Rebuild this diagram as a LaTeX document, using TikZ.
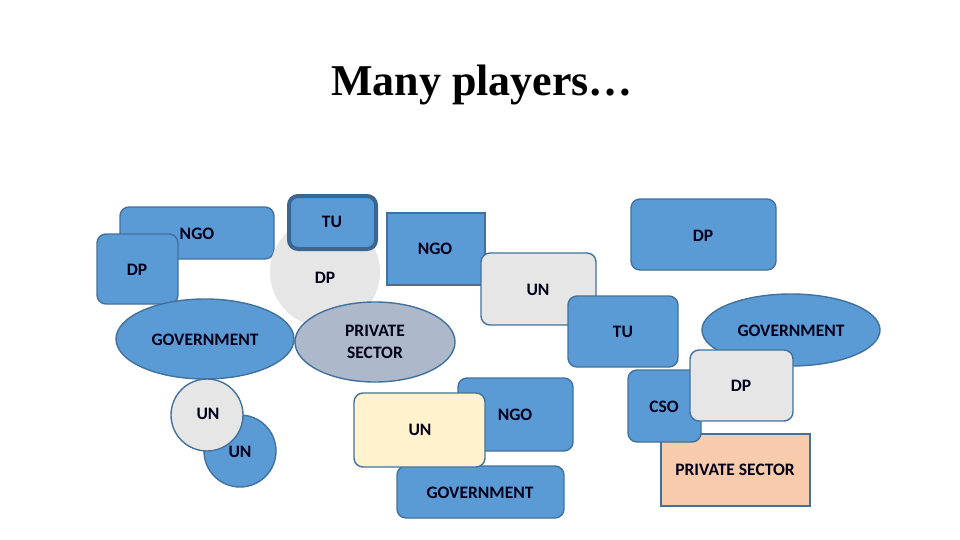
\documentclass[tikz,border=0pt]{standalone}
\usepackage{fontspec}
\setmainfont{Carlito}
\newfontfamily\titlefont{Liberation Serif}
\begin{document}
\begin{tikzpicture}[x=1pt,y=-1pt,
  every node/.style={font=\bfseries\fontsize{17.5}{20}\selectfont, text=black!90!blue},
  blue/.style={draw=bord, fill=bfill, line width=1.4pt},
  rbox/.style={blue, rounded corners=9pt},
  greybox/.style={draw=bord, fill=gfill, line width=1.4pt, rounded corners=9pt},
  txt/.style={inner sep=0pt, align=center}]
\definecolor{bfill}{HTML}{5B9BD5}
\definecolor{bord}{HTML}{41719C}
\definecolor{gfill}{HTML}{E7E6E6}
\definecolor{psfill}{HTML}{ADB9CA}
\definecolor{yfill}{HTML}{FFF2CC}
\definecolor{pfill}{HTML}{F8CBAD}
\definecolor{dkbord}{HTML}{3A6690}
\useasboundingbox (0,0) rectangle (960,540);
\node[txt, font=\titlefont\bfseries\fontsize{44}{50}\selectfont, text=black] (title) at (482,85) {Many players…};
% top-left cluster
\draw[rbox] (120,207) rectangle (274,259);
\node[txt] (ngo1) at (197,234) {NGO};
\draw[rbox] (97,234) rectangle (178,304);
\node[txt] (dp1) at (137,270) {DP};
\fill[gfill] (325,272) circle (55);
\node[txt] (dp2) at (325,278) {DP};
\draw[rbox, draw=dkbord, line width=4pt] (289,196) rectangle (376,249);
\node[txt] (tu1) at (332,222) {TU};
% middle top
\draw[blue] (387,213) rectangle (485,285);
\node[txt] (ngo2) at (435,249) {NGO};
\draw[greybox] (481,253) rectangle (596,325);
\node[txt] (un1) at (538,290) {UN};
\draw[rbox] (568,296) rectangle (678,367);
\node[txt] (tu2) at (623,332) {TU};
\draw[rbox] (631,199) rectangle (776,270);
\node[txt] (dp3) at (703,236) {DP};
% left ellipses
\draw[blue] (205,339) ellipse [x radius=89, y radius=40];
\node[txt] (gov1) at (205,340) {GOVERNMENT};
\draw[draw=bord, fill=psfill, line width=1.4pt] (375,342) ellipse [x radius=80, y radius=40];
\node[txt] (ps1) at (375,342) {PRIVATE\\[2pt]SECTOR};
% right cluster
\draw[blue] (791,330) ellipse [x radius=89, y radius=36];
\node[txt] (gov2) at (791,331) {GOVERNMENT};
\draw[draw=bord, fill=pfill, line width=1.2pt] (661,434) rectangle (810,506);
\node[txt] (ps2) at (735,470) {PRIVATE SECTOR};
\draw[rbox] (628,370) rectangle (701,442);
\node[txt] (cso) at (664,407) {CSO};
\draw[greybox] (690,350) rectangle (793,421);
\node[txt] (dp4) at (741,386) {DP};
% bottom middle
\draw[rbox] (397,466) rectangle (564,518);
\node[txt] (gov3) at (480,493) {GOVERNMENT};
\draw[rbox] (458,378) rectangle (573,451);
\node[txt] (ngo3) at (515,415) {NGO};
\draw[draw=bord, fill=yfill, line width=1.4pt, rounded corners=9pt] (354,393) rectangle (485,467);
\node[txt] (un2) at (420,430) {UN};
% circles bottom-left
\draw[blue] (240,451) circle (36);
\node[txt] (un3) at (240,452) {UN};
\draw[draw=bord, fill=gfill, line width=1.4pt] (207,415) circle (36);
\node[txt] (un4) at (208,414) {UN};
\end{tikzpicture}
\end{document}
